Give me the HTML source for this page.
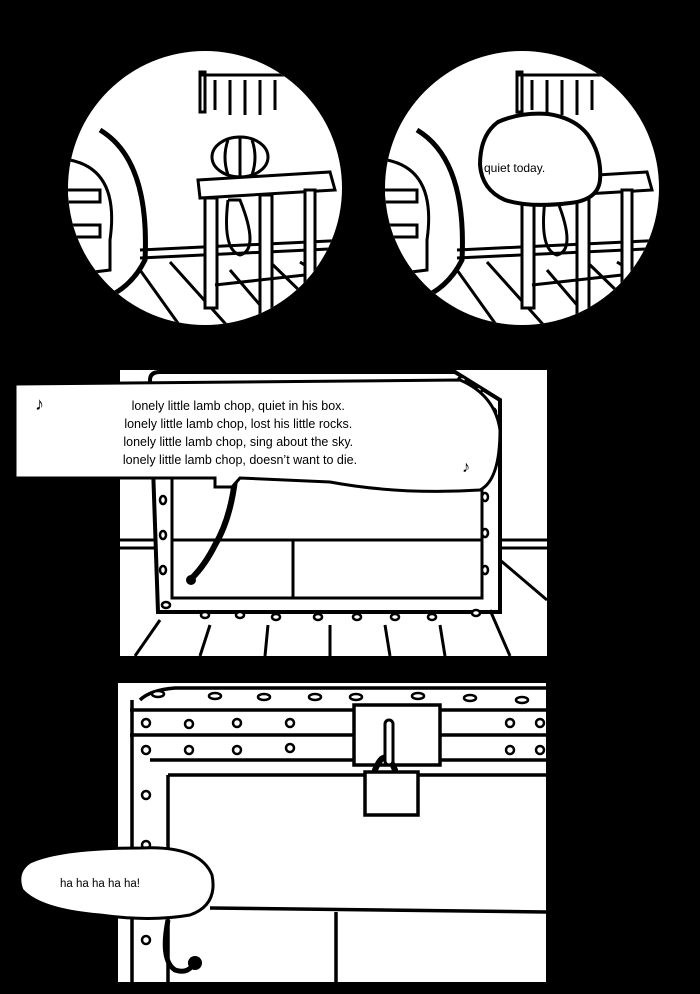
<!DOCTYPE html>
<html><head><meta charset="utf-8"><style>
html,body{margin:0;padding:0;background:#000;}
svg{display:block}
text{font-family:"Liberation Sans",sans-serif;fill:#000}
</style></head><body>
<svg width="700" height="994" viewBox="0 0 700 994" xmlns="http://www.w3.org/2000/svg">
<defs>
<clipPath id="c1"><rect x="68" y="40" width="290" height="300"/></clipPath>
<clipPath id="c2"><rect x="382" y="40" width="290" height="300"/></clipPath>
<clipPath id="k1"><circle cx="205" cy="188" r="137"/></clipPath>
<clipPath id="k2"><circle cx="522" cy="188" r="137"/></clipPath>
<g id="scene" fill="none" stroke="#000" stroke-width="3">
  <path d="M100 130 Q150 160 145 260 Q130 290 100 300" stroke-width="5"/>
  <path d="M70 160 Q120 170 110 240 L110 270 L70 275" />
  <rect x="55" y="190" width="45" height="12" fill="#fff"/>
  <rect x="55" y="225" width="45" height="12" fill="#fff"/>
  <line x1="140" y1="250" x2="350" y2="240"/>
  <line x1="140" y1="258" x2="350" y2="248"/>
  <path d="M110 290 L140 340 M140 270 L190 340 M170 262 L240 340 M230 270 L290 340 M270 262 L340 330 M300 262 L360 300"/>
  <rect x="200" y="72" width="5" height="40" /><line x1="200" y1="75" x2="320" y2="75"/>
  <path d="M205 80 L205 110 M215 80 L215 110 M230 80 L230 115 M245 80 L245 115 M260 80 L260 115 M275 80 L275 110"/>
  <ellipse cx="240" cy="157" rx="28" ry="20" fill="#fff"/>
  <path d="M228 140 Q222 157 228 175 M240 138 L240 177 M252 140 Q258 157 252 175"/>
  <path d="M198 180 L330 172 L335 190 L200 198 Z" fill="#fff"/>
  <rect x="205" y="198" width="12" height="110" fill="#fff"/>
  <rect x="260" y="195" width="12" height="120" fill="#fff"/>
  <rect x="305" y="190" width="10" height="100" fill="#fff"/>
  <line x1="215" y1="285" x2="305" y2="275"/>
  <path d="M228 200 L240 200 Q260 250 240 255 Q222 250 228 200" />
</g>
</defs>

<!-- circle 1 -->
<g clip-path="url(#c1)"><circle cx="205" cy="188" r="137" fill="#fff"/>
<g clip-path="url(#k1)"><use href="#scene"/></g></g>
<!-- circle 2 -->
<g clip-path="url(#c2)"><circle cx="522" cy="188" r="137" fill="#fff"/>
<g clip-path="url(#k2)"><use href="#scene" transform="translate(317,0)"/></g></g>
<path d="M498 122 Q520 112 548 114 Q575 118 588 135 Q602 155 600 180 Q598 200 570 203 Q530 208 505 200 Q482 190 480 165 Q480 135 498 122 Z" fill="#fff" stroke="#000" stroke-width="4"/>
<text x="484" y="172" font-size="12">quiet today.</text>

<!-- panel 2 -->
<rect x="120" y="370" width="427" height="286" fill="#fff"/>
<g fill="none" stroke="#000" stroke-width="3">
<line x1="120" y1="540" x2="547" y2="540"/><line x1="120" y1="548" x2="547" y2="548"/>
<path d="M150 380 Q150 372 160 372 L455 372 L500 400 L500 612 L158 612 Z" stroke-width="4" fill="#fff"/>
<path d="M172 405 L172 598 L482 598 L482 420" stroke-width="3"/>
<line x1="172" y1="540" x2="482" y2="540"/><line x1="293" y1="540" x2="293" y2="598"/>
<path d="M135 656 L160 620 M200 656 L210 625 M265 656 L268 625 M330 656 L330 625 M390 656 L385 625 M445 656 L440 625 M510 656 L490 610 M547 600 L500 560"/>
<path d="M235 480 Q230 520 215 545 Q205 565 192 578" stroke-width="6"/>
</g>
<circle cx="191" cy="580" r="5" fill="#000"/>
<g fill="#fff" stroke="#000" stroke-width="2.5">
<ellipse cx="163" cy="500" rx="3" ry="4"/><ellipse cx="163" cy="535" rx="3" ry="4"/><ellipse cx="163" cy="570" rx="3" ry="4"/>
<ellipse cx="485" cy="497" rx="3" ry="4"/><ellipse cx="485" cy="533" rx="3" ry="4"/><ellipse cx="485" cy="570" rx="3" ry="4"/>
<ellipse cx="166" cy="605" rx="4" ry="3"/><ellipse cx="205" cy="615" rx="4" ry="3"/><ellipse cx="240" cy="615" rx="4" ry="3"/><ellipse cx="276" cy="617" rx="4" ry="3"/><ellipse cx="318" cy="617" rx="4" ry="3"/><ellipse cx="357" cy="617" rx="4" ry="3"/><ellipse cx="395" cy="617" rx="4" ry="3"/><ellipse cx="432" cy="617" rx="4" ry="3"/><ellipse cx="476" cy="613" rx="4" ry="3"/>
<ellipse cx="462" cy="380" rx="4" ry="3"/><ellipse cx="478" cy="390" rx="4" ry="3"/><ellipse cx="492" cy="412" rx="4" ry="4"/>
</g>
<path d="M15 384 L460 380 Q495 395 500 430 Q500 480 480 490 Q400 495 330 482 L240 478 L232 487 L215 487 L215 478 L15 478 Z" fill="#fff" stroke="#000" stroke-width="3"/>
<text font-size="12.5" text-anchor="middle">
<tspan x="240" y="410">lonely little lamb chop, quiet in his box.</tspan>
<tspan x="240" y="428">lonely little lamb chop, lost his little rocks.</tspan>
<tspan x="240" y="446">lonely little lamb chop, sing about the sky.</tspan>
<tspan x="240" y="464">lonely little lamb chop, doesn’t want to die.</tspan>
</text>
<text x="35" y="410" font-size="18">♪</text><text x="462" y="472" font-size="16">♪</text>

<!-- panel 3 -->
<rect x="118" y="683" width="428" height="299" fill="#fff"/>
<g fill="none" stroke="#000" stroke-width="3.5">
<path d="M140 700 Q150 690 175 688 L546 688"/>
<line x1="130" y1="710" x2="546" y2="710"/>
<line x1="130" y1="735" x2="546" y2="735"/>
<line x1="132" y1="700" x2="132" y2="982"/>
<line x1="168" y1="775" x2="168" y2="982"/>
<line x1="168" y1="775" x2="546" y2="775"/>
<line x1="150" y1="760" x2="546" y2="760"/>
<line x1="210" y1="908" x2="546" y2="912"/>
<line x1="336" y1="912" x2="336" y2="982"/>
<rect x="354" y="705" width="86" height="60" fill="#fff"/>
<path d="M375 790 L375 770 Q385 745 395 770 L395 790" stroke-width="6"/>
<rect x="365" y="772" width="53" height="43" fill="#fff"/>
<path d="M168 920 Q160 960 175 970 Q190 975 195 960" stroke-width="5"/>
</g>
<rect x="385" y="720" width="8" height="45" rx="4" fill="#fff" stroke="#000" stroke-width="3"/>
<g fill="#fff" stroke="#000" stroke-width="2.5">
<ellipse cx="158" cy="694" rx="6" ry="3"/><ellipse cx="215" cy="696" rx="6" ry="3"/><ellipse cx="264" cy="697" rx="6" ry="3"/><ellipse cx="315" cy="697" rx="6" ry="3"/><ellipse cx="356" cy="697" rx="6" ry="3"/><ellipse cx="418" cy="696" rx="6" ry="3"/><ellipse cx="470" cy="698" rx="6" ry="3"/><ellipse cx="522" cy="700" rx="6" ry="3"/>
<circle cx="146" cy="723" r="4"/><circle cx="189" cy="724" r="4"/><circle cx="237" cy="723" r="4"/><circle cx="290" cy="723" r="4"/><circle cx="510" cy="723" r="4"/><circle cx="540" cy="723" r="4"/>
<circle cx="146" cy="750" r="4"/><circle cx="189" cy="750" r="4"/><circle cx="237" cy="750" r="4"/><circle cx="290" cy="748" r="4"/><circle cx="510" cy="750" r="4"/><circle cx="540" cy="750" r="4"/>
<circle cx="146" cy="795" r="4"/><circle cx="146" cy="845" r="4"/><circle cx="146" cy="940" r="4"/>
</g>
<circle cx="195" cy="963" r="7" fill="#000"/>
<path d="M30 862 Q60 848 140 848 Q200 845 212 875 Q218 905 190 915 Q150 922 100 915 Q40 910 22 890 Q15 872 30 862 Z" fill="#fff" stroke="#000" stroke-width="3"/>
<text x="60" y="887" font-size="11.5">ha ha ha ha ha!</text>
</svg>
</body></html>
